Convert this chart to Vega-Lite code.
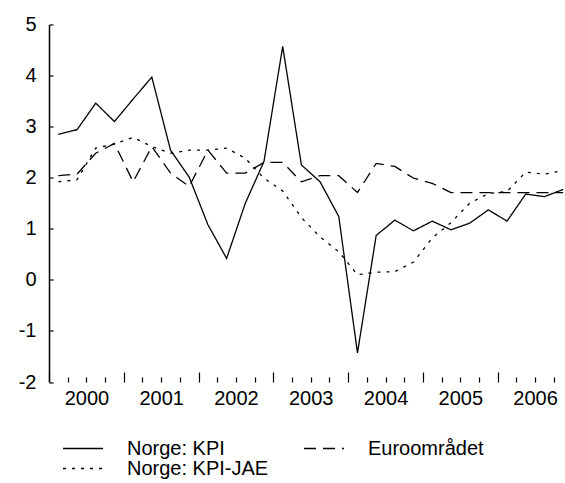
{
  "$schema": "https://vega.github.io/schema/vega-lite/v6.json",
  "width": 516,
  "height": 357.5,
  "autosize": {"type": "none"},
  "padding": {"left": 49, "top": 24.5, "right": 0, "bottom": 101},
  "config": {
    "view": {"stroke": null},
    "font": "Liberation Sans",
    "axis": {"grid": false, "title": null, "labelColor": "black", "tickColor": "black", "domainColor": "black", "labelFont": "Liberation Sans"}
  },
  "datasets": {
    "series": [
      {"t": 2000.125, "s": "Norge: KPI", "v": 2.85},
      {"t": 2000.375, "s": "Norge: KPI", "v": 2.94},
      {"t": 2000.625, "s": "Norge: KPI", "v": 3.46},
      {"t": 2000.875, "s": "Norge: KPI", "v": 3.10},
      {"t": 2001.125, "s": "Norge: KPI", "v": 3.54},
      {"t": 2001.375, "s": "Norge: KPI", "v": 3.97},
      {"t": 2001.625, "s": "Norge: KPI", "v": 2.54},
      {"t": 2001.875, "s": "Norge: KPI", "v": 2.01},
      {"t": 2002.125, "s": "Norge: KPI", "v": 1.08},
      {"t": 2002.375, "s": "Norge: KPI", "v": 0.42},
      {"t": 2002.625, "s": "Norge: KPI", "v": 1.50},
      {"t": 2002.875, "s": "Norge: KPI", "v": 2.32},
      {"t": 2003.125, "s": "Norge: KPI", "v": 4.57},
      {"t": 2003.375, "s": "Norge: KPI", "v": 2.25},
      {"t": 2003.625, "s": "Norge: KPI", "v": 1.92},
      {"t": 2003.875, "s": "Norge: KPI", "v": 1.24},
      {"t": 2004.125, "s": "Norge: KPI", "v": -1.43},
      {"t": 2004.375, "s": "Norge: KPI", "v": 0.87},
      {"t": 2004.625, "s": "Norge: KPI", "v": 1.17},
      {"t": 2004.875, "s": "Norge: KPI", "v": 0.96},
      {"t": 2005.125, "s": "Norge: KPI", "v": 1.15},
      {"t": 2005.375, "s": "Norge: KPI", "v": 0.98},
      {"t": 2005.625, "s": "Norge: KPI", "v": 1.11},
      {"t": 2005.875, "s": "Norge: KPI", "v": 1.37},
      {"t": 2006.125, "s": "Norge: KPI", "v": 1.15},
      {"t": 2006.375, "s": "Norge: KPI", "v": 1.68},
      {"t": 2006.625, "s": "Norge: KPI", "v": 1.63},
      {"t": 2006.875, "s": "Norge: KPI", "v": 1.77},
      {"t": 2000.125, "s": "Norge: KPI-JAE", "v": 1.92},
      {"t": 2000.375, "s": "Norge: KPI-JAE", "v": 1.96},
      {"t": 2000.625, "s": "Norge: KPI-JAE", "v": 2.58},
      {"t": 2000.875, "s": "Norge: KPI-JAE", "v": 2.66},
      {"t": 2001.125, "s": "Norge: KPI-JAE", "v": 2.79},
      {"t": 2001.375, "s": "Norge: KPI-JAE", "v": 2.61},
      {"t": 2001.625, "s": "Norge: KPI-JAE", "v": 2.48},
      {"t": 2001.875, "s": "Norge: KPI-JAE", "v": 2.54},
      {"t": 2002.125, "s": "Norge: KPI-JAE", "v": 2.54},
      {"t": 2002.375, "s": "Norge: KPI-JAE", "v": 2.58},
      {"t": 2002.625, "s": "Norge: KPI-JAE", "v": 2.38},
      {"t": 2002.875, "s": "Norge: KPI-JAE", "v": 1.99},
      {"t": 2003.125, "s": "Norge: KPI-JAE", "v": 1.74},
      {"t": 2003.375, "s": "Norge: KPI-JAE", "v": 1.22},
      {"t": 2003.625, "s": "Norge: KPI-JAE", "v": 0.84},
      {"t": 2003.875, "s": "Norge: KPI-JAE", "v": 0.55},
      {"t": 2004.125, "s": "Norge: KPI-JAE", "v": 0.10},
      {"t": 2004.375, "s": "Norge: KPI-JAE", "v": 0.15},
      {"t": 2004.625, "s": "Norge: KPI-JAE", "v": 0.16},
      {"t": 2004.875, "s": "Norge: KPI-JAE", "v": 0.35},
      {"t": 2005.125, "s": "Norge: KPI-JAE", "v": 0.82},
      {"t": 2005.375, "s": "Norge: KPI-JAE", "v": 1.12},
      {"t": 2005.625, "s": "Norge: KPI-JAE", "v": 1.50},
      {"t": 2005.875, "s": "Norge: KPI-JAE", "v": 1.69},
      {"t": 2006.125, "s": "Norge: KPI-JAE", "v": 1.73},
      {"t": 2006.375, "s": "Norge: KPI-JAE", "v": 2.11},
      {"t": 2006.625, "s": "Norge: KPI-JAE", "v": 2.07},
      {"t": 2006.875, "s": "Norge: KPI-JAE", "v": 2.14},
      {"t": 2000.125, "s": "Euroområdet", "v": 2.04},
      {"t": 2000.375, "s": "Euroområdet", "v": 2.07},
      {"t": 2000.625, "s": "Euroområdet", "v": 2.48},
      {"t": 2000.875, "s": "Euroområdet", "v": 2.67},
      {"t": 2001.125, "s": "Euroområdet", "v": 1.92},
      {"t": 2001.375, "s": "Euroområdet", "v": 2.61},
      {"t": 2001.625, "s": "Euroområdet", "v": 2.09},
      {"t": 2001.875, "s": "Euroområdet", "v": 1.83},
      {"t": 2002.125, "s": "Euroområdet", "v": 2.54},
      {"t": 2002.375, "s": "Euroområdet", "v": 2.09},
      {"t": 2002.625, "s": "Euroområdet", "v": 2.09},
      {"t": 2002.875, "s": "Euroområdet", "v": 2.30},
      {"t": 2003.125, "s": "Euroområdet", "v": 2.30},
      {"t": 2003.375, "s": "Euroområdet", "v": 1.92},
      {"t": 2003.625, "s": "Euroområdet", "v": 2.04},
      {"t": 2003.875, "s": "Euroområdet", "v": 2.04},
      {"t": 2004.125, "s": "Euroområdet", "v": 1.71},
      {"t": 2004.375, "s": "Euroområdet", "v": 2.28},
      {"t": 2004.625, "s": "Euroområdet", "v": 2.22},
      {"t": 2004.875, "s": "Euroområdet", "v": 1.99},
      {"t": 2005.125, "s": "Euroområdet", "v": 1.89},
      {"t": 2005.375, "s": "Euroområdet", "v": 1.71},
      {"t": 2005.625, "s": "Euroområdet", "v": 1.71},
      {"t": 2005.875, "s": "Euroområdet", "v": 1.71},
      {"t": 2006.125, "s": "Euroområdet", "v": 1.71},
      {"t": 2006.375, "s": "Euroområdet", "v": 1.71},
      {"t": 2006.625, "s": "Euroområdet", "v": 1.71},
      {"t": 2006.875, "s": "Euroområdet", "v": 1.71}
    ]
  },
  "layer": [
    {
      "mark": {"type": "rule", "color": "#808080", "strokeWidth": 1.3},
      "encoding": {
        "y": {"datum": 0, "type": "quantitative", "scale": {"domain": [-2, 5], "nice": false, "zero": false},
          "axis": {"orient": "left", "values": [-2, -1, 0, 1, 2, 3, 4, 5], "labels": false, "domain": false, "ticks": true, "tickSize": 4, "offset": -4, "tickWidth": 1.2}}
      }
    },
    {
      "mark": {"type": "rule", "color": "black", "strokeWidth": 1.5},
      "encoding": {
        "y": {"datum": -2, "type": "quantitative", "axis": null}
      }
    },
    {
      "mark": {"type": "rule", "color": "black", "strokeWidth": 1.1},
      "encoding": {
        "x": {"datum": 2004.5, "type": "quantitative", "scale": {"domain": [2000, 2006.9], "nice": false, "zero": false},
          "axis": {"orient": "bottom", "values": [2000, 2001, 2002, 2003, 2004, 2005, 2006], "labelExpr": "'' + datum.value", "labels": true, "labelFlush": false, "labelOffset": 37.4, "labelPadding": 6, "labelFontSize": 20, "domain": false, "ticks": true, "tickSize": 10, "offset": -10, "tickWidth": 1.2}}
      }
    },
    {
      "data": {"name": "series"},
      "mark": {"type": "line", "color": "black", "strokeWidth": 1.3},
      "encoding": {
        "x": {"field": "t", "type": "quantitative",
          "axis": {"orient": "bottom", "values": [2000.25, 2000.5, 2000.75, 2001.25, 2001.5, 2001.75, 2002.25, 2002.5, 2002.75, 2003.25, 2003.5, 2003.75, 2004.25, 2004.5, 2004.75, 2005.25, 2005.5, 2005.75, 2006.25, 2006.5, 2006.75], "labels": false, "domain": false, "ticks": true, "tickSize": 5, "offset": -5, "tickWidth": 1.2}},
        "y": {"field": "v", "type": "quantitative",
          "axis": {"orient": "left", "values": [-2, -1, 0, 1, 2, 3, 4, 5], "labelExpr": "'' + datum.value", "ticks": false, "domain": true, "domainWidth": 1.5, "labelPadding": 13, "labelFontSize": 20}},
        "strokeDash": {"field": "s", "type": "nominal",
          "scale": {"domain": ["Norge: KPI", "Norge: KPI-JAE", "Euroområdet"], "range": [[1, 0], [3, 6], [12, 7]]},
          "legend": {"orient": "none", "legendX": 24, "legendY": 414, "columns": 2, "symbolType": "M-4,0H4", "symbolSize": 100, "symbolStrokeWidth": 1.3, "symbolStrokeColor": "black", "labelFontSize": 20, "labelOffset": 34, "columnPadding": 32, "rowPadding": -8, "title": null, "padding": 0, "labelColor": "black"}}
      }
    }
  ],
  "resolve": {"axis": {"x": "independent", "y": "independent"}}
}
